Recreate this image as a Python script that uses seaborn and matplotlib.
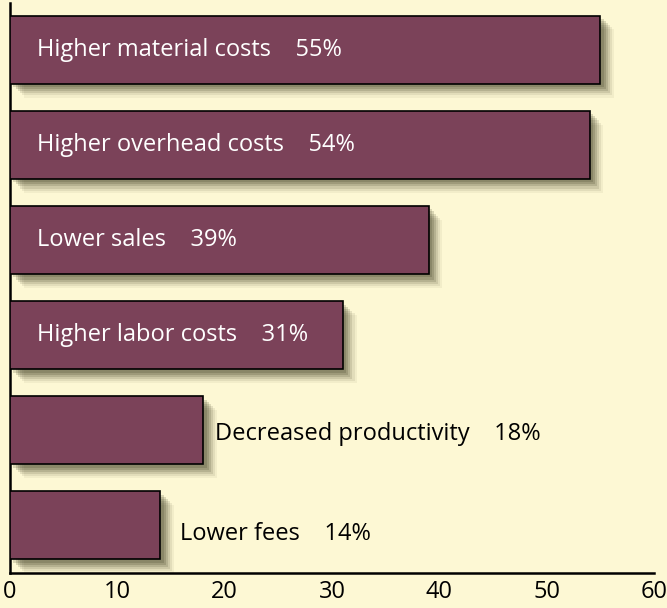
import matplotlib
matplotlib.use("Agg")
import matplotlib.pyplot as plt
import matplotlib.patheffects as pe
import seaborn as sns
import pandas as pd

# chart data
reasons = ["Higher material costs", "Higher overhead costs", "Lower sales",
           "Higher labor costs", "Decreased productivity", "Lower fees"]
shares = [55, 54, 39, 31, 18, 14]
inside = [True, True, True, True, False, False]
x_ticks = [0, 10, 20, 30, 40, 50, 60]

BG = "#fdf8d4"
BAR = "#7b4259"

df = pd.DataFrame({"reason": reasons, "share": shares})

sns.set_theme(style="white")
plt.rcParams["font.family"] = ["Open Sans", "DejaVu Sans"]

fig = plt.figure(figsize=(6.67, 6.08), dpi=100, facecolor=BG)
ax = fig.add_axes([10 / 667, 35 / 608, 644 / 667, 570 / 608])
ax.set_facecolor(BG)

sns.barplot(data=df, x="share", y="reason", color=BAR, saturation=1,
            width=0.715, edgecolor="black", linewidth=1.2, ax=ax, zorder=3)

# soft drop shadow: several offset layers
shadow = [pe.SimplePatchShadow(offset=(o, -o), shadow_rgbFace="#26260c", alpha=a)
          for o, a in [(10, 0.05), (8.5, 0.08), (7, 0.11), (5.5, 0.14), (4, 0.16), (2.5, 0.16)]]
for p in ax.patches:
    p.set_path_effects(shadow + [pe.Normal()])

# offsets (points) for labels placed outside the bar
out_off = {18: (8.5, -3), 14: (14, -6.5)}

for i, (name, val, inn) in enumerate(zip(reasons, shares, inside)):
    label = f"{name}    {val}%"
    if inn:
        ax.text(2.5, i, label, color="white", fontsize=17, va="center", ha="left", zorder=5)
    else:
        ax.annotate(label, (val, i), xytext=out_off[val],
                    textcoords="offset points", color="black", fontsize=17,
                    va="center", ha="left", zorder=5)

ax.set_xlim(0, 60)
ax.set_ylim(5.5, -0.49)
ax.set_xticks(x_ticks)
ax.set_xticklabels([str(t) for t in x_ticks])
ax.set_xlabel("")
ax.set_ylabel("")
ax.set_yticks([])
for s in ["top", "right"]:
    ax.spines[s].set_visible(False)
for s in ["left", "bottom"]:
    ax.spines[s].set_color("black")
    ax.spines[s].set_linewidth(1.8)
ax.tick_params(axis="x", direction="in", length=11, width=1.6, color="black",
               labelsize=17, labelcolor="black", pad=5)
ax.grid(False)

fig.savefig("out.png", dpi=100, facecolor=BG)
